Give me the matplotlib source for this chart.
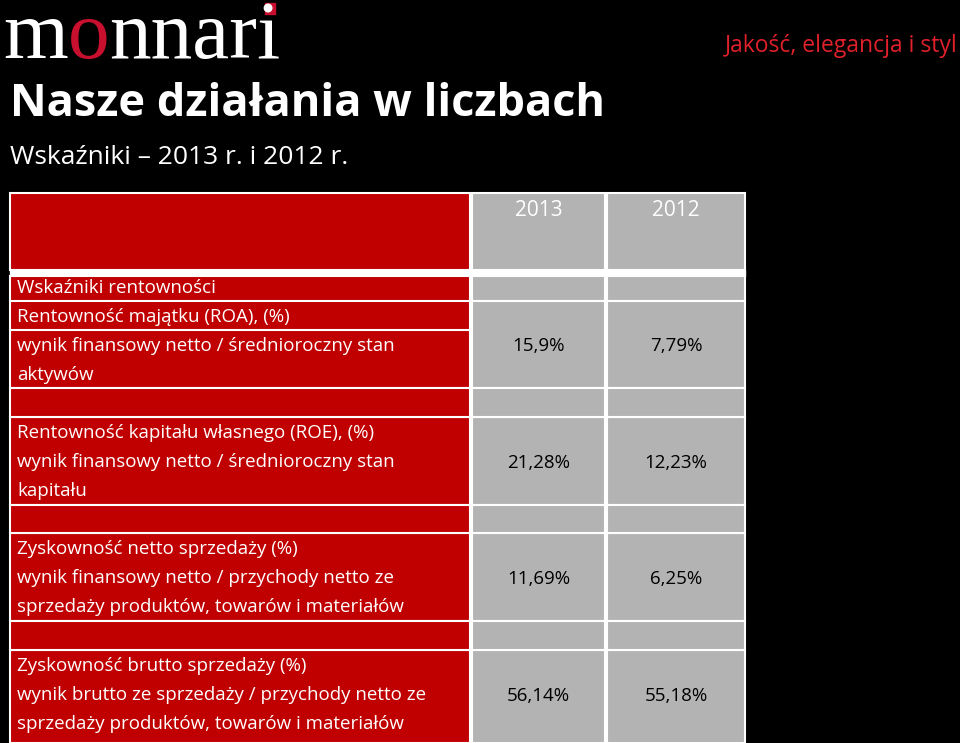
import matplotlib
matplotlib.use("Agg")
import matplotlib.pyplot as plt
from matplotlib.patches import Rectangle

# --- data ---
years = ["2013", "2012"]
row_labels = [
    ["Wskaźniki rentowności", "Rentowność majątku (ROA), (%)",
     "wynik finansowy netto / średnioroczny stan", "aktywów"],
    ["Rentowność kapitału własnego (ROE), (%)",
     "wynik finansowy netto / średnioroczny stan", "kapitału"],
    ["Zyskowność netto sprzedaży (%)",
     "wynik finansowy netto / przychody netto ze",
     "sprzedaży produktów, towarów i materiałów"],
    ["Zyskowność brutto sprzedaży (%)",
     "wynik brutto ze sprzedaży / przychody netto ze",
     "sprzedaży produktów, towarów i materiałów"],
]
values_2013 = ["15,9%", "21,28%", "11,69%", "56,14%"]
values_2012 = ["7,79%", "12,23%", "6,25%", "55,18%"]

RED = "#c00000"
GRAY = "#b3b3b3"
FONT = ["Open Sans", "DejaVu Sans"]

fig = plt.figure(figsize=(9.6, 7.43), dpi=100, facecolor="black")
ax = fig.add_axes([0, 0, 1, 1])
ax.set_xlim(0, 960)
ax.set_ylim(743, 0)
ax.axis("off")
ax.set_facecolor("black")
renderer = fig.canvas.get_renderer()

# logo, drawn piece by piece so the red "o" sits right after the "m"
x = 3
for part, col in [("m", "white"), ("o", "#c8102e"), ("nnari", "white")]:
    t = ax.text(x, 58, part, color=col, fontsize=60, family="Liberation Serif",
                va="baseline")
    bb = t.get_window_extent(renderer)
    x += bb.width
ax.add_patch(Rectangle((x - 16, 3), 10, 11, color="#c8102e"))

ax.text(958, 46, "Jakość, elegancja i styl", color="#e0202a", fontsize=16.5,
        family=FONT, ha="right", va="center")
ax.text(10, 105, "Nasze działania w liczbach", color="white", fontsize=32.5,
        family=FONT, fontweight="bold", va="center")
ax.text(10, 158, "Wskaźniki – 2013 r. i 2012 r.", color="white", fontsize=19,
        family=FONT, va="center")

# column geometry
cols = [(10, 470), (472, 605), (607, 745)]
groups = [(276, 388), (417, 505), (533, 621), (650, 743)]
gaps = [(388, 417), (505, 533), (621, 650)]

def cell(x0, x1, y0, y1, color):
    ax.add_patch(Rectangle((x0, y0), x1 - x0, y1 - y0, facecolor=color,
                           edgecolor="white", linewidth=1.5))

# header row
cell(*cols[0], 193, 270, RED)
for (x0, x1), yr in zip(cols[1:], years):
    cell(x0, x1, 193, 270, GRAY)
    ax.text((x0 + x1) / 2, 211, yr, color="white", fontsize=15, family=FONT,
            ha="center", va="center")
ax.add_patch(Rectangle((10, 270), 735, 6, color="white"))

for gi, ((y0, y1), labels) in enumerate(zip(groups, row_labels)):
    cell(*cols[0], y0, y1, RED)
    if gi == 0:
        ax.plot([10, 470], [301, 301], color="white", lw=1.5)
        ax.plot([10, 470], [330, 330], color="white", lw=1.5)
        for x0, x1 in cols[1:]:
            cell(x0, x1, 276, 301, GRAY)
            cell(x0, x1, 301, 388, GRAY)
        vy = 346
    else:
        for x0, x1 in cols[1:]:
            cell(x0, x1, y0, y1, GRAY)
        vy = y0 + 46
    start = y0 + (12 if gi == 0 else 16)
    for i, lab in enumerate(labels):
        ax.text(17, start + i * 29, lab, color="white", fontsize=13.5,
                family=FONT, va="center")
    ax.text(sum(cols[1]) / 2, vy, values_2013[gi], color="black", fontsize=13.5,
            family=FONT, ha="center", va="center")
    ax.text(sum(cols[2]) / 2, vy, values_2012[gi], color="black", fontsize=13.5,
            family=FONT, ha="center", va="center")

for y0, y1 in gaps:
    cell(*cols[0], y0, y1, RED)
    for x0, x1 in cols[1:]:
        cell(x0, x1, y0, y1, GRAY)

fig.savefig("out.png", dpi=100, facecolor="black")
